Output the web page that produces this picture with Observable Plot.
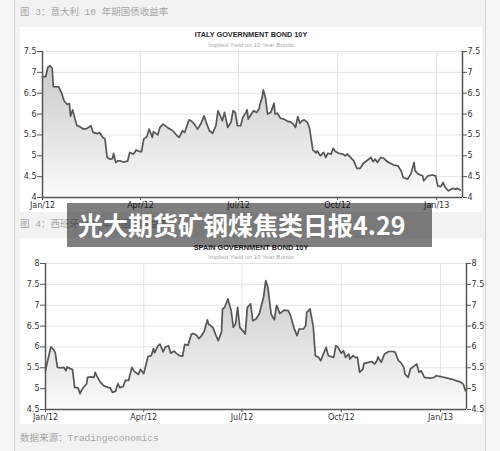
<!DOCTYPE html>
<html><head><meta charset="utf-8">
<script src="https://cdn.jsdelivr.net/npm/d3@7"></script>
<script src="https://cdn.jsdelivr.net/npm/@observablehq/plot@0.6"></script>
<style>
body{margin:0;width:500px;height:451px;background:#f6f6f6;position:relative;overflow:hidden;font-family:"DejaVu Sans",sans-serif}
#panel{position:absolute;left:14px;top:0;width:470px;height:451px;background:#f2f2f2;border-left:1.5px solid #d4d4d4;border-right:1.5px solid #d4d4d4}
.cap{position:absolute;left:20px;font-family:"Liberation Mono","Noto Sans CJK SC",monospace;font-size:9.5px;line-height:12px;color:#a6a6a6;white-space:nowrap}
.box{position:absolute;left:20px;width:462px;background:#fff}
.box svg{position:absolute;left:0;top:0}
.title{position:absolute;left:0;width:100%;text-align:center;font-family:"Liberation Sans",sans-serif;font-weight:bold;font-size:7.3px;line-height:8px;color:#2a2a2a;z-index:2}
.sub{position:absolute;left:0;width:100%;text-align:center;font-family:"Liberation Sans",sans-serif;font-size:6.2px;line-height:8px;color:#aaa;z-index:2}
#banner{position:absolute;left:67px;top:203px;width:365px;height:44px;background:rgba(0,0,0,0.5);z-index:5}
#banner span{position:absolute;left:11px;top:0;line-height:43px;font-family:"Noto Sans CJK SC",sans-serif;font-weight:bold;font-size:25px;color:#fff;white-space:nowrap}
</style>
</head><body>
<div id="panel"></div>
<div class="cap" style="top:7px">图 3：意大利 10 年期国债收益率</div>
<div class="box" id="box1" style="top:27px;height:185px">
  <div class="title" style="top:4px">ITALY GOVERNMENT BOND 10Y</div>
  <div class="sub" style="top:14px">Implied Yield on 10 Year Bonds</div>
</div>
<div class="cap" style="top:219px">图 4：西班牙 10 年期国债收益率</div>
<div class="box" id="box2" style="top:238px;height:186px">
  <div class="title" style="top:6px">SPAIN GOVERNMENT BOND 10Y</div>
  <div class="sub" style="top:15px">Implied Yield on 10 Year Bonds</div>
</div>
<div class="cap" style="top:433px">数据来源：Tradingeconomics</div>
<div id="banner"><span>光大期货矿钢煤焦类日报4.29</span></div>
<script>
const xDomain = ["2012-01-01", "2013-01-25"];
const xTickDates = ["2012-01-01", "2012-04-01", "2012-07-01", "2012-10-01", "2013-01-01"];
const xTickLabels = ["Jan/12", "Apr/12", "Jul/12", "Oct/12", "Jan/13"];

const italyYTicks = [4, 4.5, 5, 5.5, 6, 6.5, 7, 7.5];
const italyYLabels = ["4", "4.5", "5", "5.5", "6", "6.5", "7", "7.5"];
const spainYTicks = [4.5, 5, 5.5, 6, 6.5, 7, 7.5, 8];
const spainYLabels = ["4.5", "5", "5.5", "6", "6.5", "7", "7.5", "8"];

const italyDates = ["2012-01-01","2012-01-04","2012-01-06","2012-01-08","2012-01-10","2012-01-11","2012-01-16","2012-01-19","2012-01-21","2012-01-24","2012-01-26","2012-01-27","2012-01-29","2012-01-31","2012-02-02","2012-02-03","2012-02-08","2012-02-11","2012-02-15","2012-02-17","2012-02-21","2012-02-23","2012-02-26","2012-02-28","2012-03-01","2012-03-04","2012-03-06","2012-03-07","2012-03-09","2012-03-11","2012-03-13","2012-03-16","2012-03-20","2012-03-22","2012-03-25","2012-03-26","2012-03-28","2012-03-31","2012-04-02","2012-04-04","2012-04-07","2012-04-09","2012-04-12","2012-04-13","2012-04-17","2012-04-19","2012-04-22","2012-04-26","2012-05-01","2012-05-05","2012-05-07","2012-05-10","2012-05-12","2012-05-16","2012-05-18","2012-05-21","2012-05-24","2012-05-27","2012-05-30","2012-06-01","2012-06-04","2012-06-07","2012-06-10","2012-06-12","2012-06-14","2012-06-16","2012-06-18","2012-06-21","2012-06-24","2012-06-26","2012-06-28","2012-06-30","2012-07-03","2012-07-05","2012-07-08","2012-07-09","2012-07-10","2012-07-12","2012-07-15","2012-07-18","2012-07-20","2012-07-21","2012-07-23","2012-07-24","2012-07-26","2012-07-28","2012-07-31","2012-08-03","2012-08-04","2012-08-06","2012-08-09","2012-08-12","2012-08-16","2012-08-18","2012-08-21","2012-08-23","2012-08-25","2012-08-27","2012-08-29","2012-08-31","2012-09-03","2012-09-05","2012-09-08","2012-09-11","2012-09-12","2012-09-15","2012-09-18","2012-09-20","2012-09-22","2012-09-25","2012-09-27","2012-09-29","2012-10-02","2012-10-06","2012-10-08","2012-10-10","2012-10-13","2012-10-16","2012-10-19","2012-10-22","2012-10-25","2012-10-29","2012-11-01","2012-11-03","2012-11-05","2012-11-07","2012-11-10","2012-11-13","2012-11-16","2012-11-19","2012-11-22","2012-11-26","2012-11-29","2012-12-01","2012-12-05","2012-12-08","2012-12-11","2012-12-12","2012-12-15","2012-12-19","2012-12-20","2012-12-24","2012-12-28","2012-12-31","2013-01-02","2013-01-05","2013-01-07","2013-01-09","2013-01-12","2013-01-16","2013-01-19","2013-01-20","2013-01-23"];
const italyYields = [6.90,6.90,7.12,7.16,7.10,6.66,6.65,6.49,6.32,6.23,6.25,5.95,6.10,5.90,5.72,5.72,5.64,5.65,5.72,5.56,5.53,5.56,5.44,5.41,4.96,4.92,4.93,5.06,4.84,4.88,4.88,4.85,4.87,5.08,5.04,5.06,5.14,5.10,5.10,5.40,5.46,5.64,5.44,5.58,5.50,5.68,5.76,5.68,5.60,5.48,5.44,5.60,5.56,5.86,5.84,5.76,5.64,5.76,5.96,5.80,5.60,5.54,5.72,6.08,5.96,5.84,6.04,5.68,5.80,6.08,6.04,5.72,5.72,5.92,6.04,6.10,5.88,5.96,6.08,6.04,6.12,6.24,6.40,6.58,6.40,6.00,6.04,6.26,6.00,6.02,5.90,5.88,5.82,5.82,5.76,5.68,5.94,5.78,5.84,5.86,5.80,5.66,5.14,5.07,5.12,5.00,5.08,4.96,5.06,5.04,5.18,5.10,5.06,5.04,5.00,5.04,4.96,4.88,4.70,4.70,4.82,4.90,4.96,4.86,4.92,4.84,4.96,4.94,4.86,4.82,4.78,4.76,4.64,4.48,4.44,4.56,4.84,4.64,4.56,4.52,4.40,4.52,4.54,4.52,4.28,4.26,4.36,4.24,4.16,4.22,4.20,4.22,4.18];

const spainDates = ["2012-01-01","2012-01-03","2012-01-06","2012-01-08","2012-01-10","2012-01-12","2012-01-15","2012-01-18","2012-01-20","2012-01-21","2012-01-24","2012-01-26","2012-01-28","2012-01-31","2012-02-02","2012-02-03","2012-02-05","2012-02-08","2012-02-09","2012-02-12","2012-02-15","2012-02-16","2012-02-18","2012-02-21","2012-02-24","2012-02-28","2012-03-01","2012-03-03","2012-03-06","2012-03-08","2012-03-10","2012-03-13","2012-03-15","2012-03-18","2012-03-21","2012-03-23","2012-03-26","2012-03-27","2012-03-29","2012-04-01","2012-04-05","2012-04-08","2012-04-10","2012-04-11","2012-04-14","2012-04-16","2012-04-19","2012-04-21","2012-04-24","2012-04-26","2012-04-29","2012-05-01","2012-05-04","2012-05-07","2012-05-09","2012-05-12","2012-05-15","2012-05-17","2012-05-20","2012-05-22","2012-05-24","2012-05-27","2012-05-30","2012-05-31","2012-06-04","2012-06-07","2012-06-09","2012-06-12","2012-06-13","2012-06-15","2012-06-18","2012-06-21","2012-06-23","2012-06-25","2012-06-27","2012-06-29","2012-07-03","2012-07-04","2012-07-06","2012-07-09","2012-07-11","2012-07-14","2012-07-17","2012-07-21","2012-07-23","2012-07-25","2012-07-28","2012-07-31","2012-08-02","2012-08-03","2012-08-05","2012-08-09","2012-08-13","2012-08-15","2012-08-18","2012-08-21","2012-08-23","2012-08-27","2012-08-29","2012-08-30","2012-09-02","2012-09-05","2012-09-07","2012-09-10","2012-09-12","2012-09-15","2012-09-17","2012-09-19","2012-09-24","2012-09-26","2012-09-28","2012-10-01","2012-10-03","2012-10-05","2012-10-08","2012-10-09","2012-10-12","2012-10-14","2012-10-16","2012-10-18","2012-10-21","2012-10-22","2012-10-26","2012-10-29","2012-11-01","2012-11-03","2012-11-04","2012-11-07","2012-11-10","2012-11-14","2012-11-18","2012-11-20","2012-11-23","2012-11-25","2012-11-28","2012-11-29","2012-12-02","2012-12-04","2012-12-08","2012-12-10","2012-12-12","2012-12-14","2012-12-17","2012-12-22","2012-12-26","2012-12-28","2013-01-01","2013-01-11","2013-01-20","2013-01-22","2013-01-24"];
const spainYields = [5.44,5.67,6.00,5.95,5.87,5.51,5.50,5.51,5.43,5.52,5.48,5.46,5.03,5.02,4.88,4.94,5.02,5.11,5.27,5.28,5.27,5.39,5.28,5.15,5.07,5.03,5.02,4.91,4.94,5.12,5.02,5.05,5.20,5.20,5.51,5.42,5.36,5.34,5.46,5.36,5.77,5.79,5.96,5.86,6.02,6.07,5.88,6.00,6.03,5.85,5.90,5.85,5.79,5.78,6.06,6.04,6.30,6.32,6.28,6.20,6.25,6.37,6.65,6.55,6.47,6.27,6.15,6.35,6.91,6.95,7.15,6.87,6.47,6.55,6.95,6.47,6.35,6.31,6.95,7.03,6.63,6.67,6.79,7.19,7.59,7.43,6.79,6.65,6.99,6.95,6.80,6.88,6.87,6.75,6.47,6.27,6.43,6.43,6.51,6.83,6.91,6.50,5.79,5.75,5.67,5.87,5.99,5.79,5.75,6.03,5.99,5.85,5.91,5.75,5.83,5.71,5.79,5.75,5.75,5.39,5.47,5.60,5.63,5.65,5.59,5.67,5.76,5.63,5.83,5.89,5.89,5.87,5.67,5.63,5.51,5.35,5.27,5.47,5.55,5.59,5.39,5.43,5.27,5.25,5.27,5.31,5.29,5.23,5.15,5.11,4.95];

function bondChart(target, dates, yields, yTicks, yLabels, gid, dims) {
  const data = dates.map((d, i) => ({date: new Date(d), y: yields[i]}));
  const ticks = xTickDates.map(d => new Date(d));
  const x0 = new Date(xDomain[0]), x1 = new Date(xDomain[1]);
  const yMin = yTicks[0], yMax = yTicks[yTicks.length - 1];
  const yFmt = d => yLabels[yTicks.indexOf(d)];
  const xFmt = d => xTickLabels[ticks.findIndex(t => +t === +d)];
  const svg = Plot.plot({
    width: dims.width, height: dims.height,
    marginLeft: dims.ml, marginRight: dims.mr, marginTop: dims.mt, marginBottom: dims.mb,
    style: {fontFamily: "DejaVu Sans", fontSize: "8px", color: "#333", background: "transparent", overflow: "visible"},
    x: {type: "utc", domain: [x0, x1], label: null},
    y: {domain: [yMin, yMax], label: null},
    marks: [
      Plot.gridY(yTicks.slice(1), {stroke: "#e3e3e3", strokeOpacity: 1}),
      Plot.gridX(ticks.slice(1), {stroke: "#e3e3e3", strokeOpacity: 1}),
      Plot.areaY(data, {x: "date", y1: () => yMin, y2: "y", fill: `url(#${gid})`}),
      Plot.lineY(data, {x: "date", y: "y", stroke: "#565656", strokeWidth: 1.7}),
      Plot.ruleX([x0], {stroke: "#555", strokeWidth: 1.5}),
      Plot.ruleX([x1], {stroke: "#555", strokeWidth: 1.5}),
      Plot.ruleY([yMin], {stroke: "#555", strokeWidth: 1.5}),
      Plot.axisY(yTicks, {anchor: "left", label: null, tickSize: 5, tickPadding: 1, tickFormat: yFmt, stroke: "#555", fill: "#333"}),
      Plot.axisY(yTicks, {anchor: "right", label: null, tickSize: 4, tickPadding: 1, tickFormat: yFmt, stroke: "#555", fill: "#333"}),
      Plot.axisX(ticks, {anchor: "bottom", label: null, tickSize: 3, tickPadding: 2, tickFormat: xFmt, stroke: "#555", fill: "#333"})
    ]
  });
  svg.insertAdjacentHTML("afterbegin",
    `<defs><linearGradient id="${gid}" x1="0" y1="0" x2="0" y2="1">` +
    `<stop offset="0" stop-color="#cbcbcb"/><stop offset="0.55" stop-color="#e4e4e4"/><stop offset="1" stop-color="#fbfbfb"/>` +
    `</linearGradient></defs>`);
  document.getElementById(target).appendChild(svg);
}

bondChart("box1", italyDates, italyYields, italyYTicks, italyYLabels, "gItaly",
  {width: 462, height: 185, ml: 22, mr: 20, mt: 24, mb: 15});
bondChart("box2", spainDates, spainYields, spainYTicks, spainYLabels, "gSpain",
  {width: 462, height: 186, ml: 25, mr: 16, mt: 25, mb: 15});
</script>
</body></html>
